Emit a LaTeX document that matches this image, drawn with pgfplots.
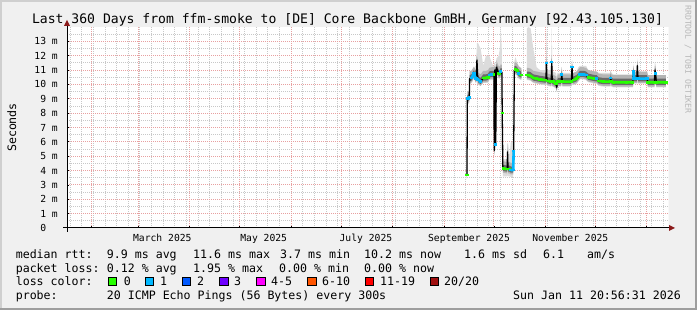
\documentclass[border=0pt]{standalone}
\usepackage{fontspec}
\setmainfont{DejaVu Sans Mono}
\usepackage{pgfplots}
\usepackage{pgfplotstable}
\usepgfplotslibrary{fillbetween}
\pgfplotsset{compat=1.18}
\definecolor{bgc}{HTML}{F0F0F0}
\definecolor{shadeA}{HTML}{CFCFCF}
\definecolor{shadeB}{HTML}{9E9E9E}
\definecolor{lgreen}{HTML}{26FF00}
\definecolor{lcyan}{HTML}{00B8FF}
\definecolor{lblue}{HTML}{0059FF}
\definecolor{lpurple}{HTML}{6E00FF}
\definecolor{lmag}{HTML}{FF00FF}
\definecolor{lorange}{HTML}{FF5500}
\definecolor{lred}{HTML}{FF0000}
\definecolor{ldred}{HTML}{A01010}
\definecolor{mgrid}{HTML}{E8A0A0}
\definecolor{ngrid}{HTML}{C8C8C8}
\definecolor{arrowred}{HTML}{8B1A1A}
\definecolor{smokeL}{HTML}{DCDCDC}
\definecolor{smokeM}{HTML}{B4B4B4}
\definecolor{smokeD}{HTML}{6A6A6A}
\definecolor{wmark}{HTML}{B8B8B8}

\pgfplotstableread{
d med lo hi g c
256.8 3.7 3.5 4.0 3.7 nan
257.0 9.0 8.6 9.3 nan nan
257.4 9.0 8.6 9.3 nan 9.0
258.2 9.1 8.7 9.4 nan 9.1
258.4 10.4 10.0 10.9 nan nan
259.6 10.45 10.1 11.0 nan 10.45
261.0 10.75 10.4 11.2 nan 10.75
262.2 10.4 10.1 11.0 nan 10.4
262.8 11.7 10.2 12.9 nan nan
263.3 10.35 10.0 12.9 nan 10.35
265.0 10.2 9.9 12.5 nan 10.2
266.6 10.45 10.1 11.3 10.45 nan
268.2 10.45 10.1 12.0 10.45 nan
269.5 10.5 10.1 12.0 10.5 nan
270.2 10.65 10.3 12.0 nan 10.65
271.7 10.7 10.3 11.5 nan 10.7
272.6 10.7 10.3 11.3 10.7 nan
273.0 10.7 10.3 11.3 nan nan
273.2 5.4 5.0 5.8 nan nan
273.5 11.0 10.6 11.5 nan nan
273.8 11.0 10.6 11.5 nan nan
274.1 5.8 5.4 6.2 nan 5.8
274.5 11.2 10.7 11.8 nan nan
275.9 10.75 10.4 12.0 10.75 nan
276.6 10.75 10.4 12.5 10.75 nan
277.1 10.9 10.5 14.0 nan 10.9
277.8 10.85 10.5 12.3 nan nan
278.0 8.0 7.7 8.3 8.0 nan
278.4 4.15 3.6 4.8 nan nan
278.6 4.15 3.6 4.8 4.15 nan
280.7 4.1 3.6 4.8 4.1 nan
281.0 4.1 3.6 5.9 nan nan
281.2 5.3 3.7 5.9 nan nan
281.5 4.1 3.6 5.9 4.1 nan
282.4 4.1 3.6 5.0 4.1 nan
283.2 4.03 3.55 6.0 nan 4.03
284.6 4.03 3.55 6.0 nan 4.03
284.9 5.37 5.0 5.9 nan 5.37
285.3 11.0 10.6 11.6 nan nan
286.0 11.05 10.7 11.9 11.05 nan
287.0 10.95 10.6 11.5 10.95 nan
287.9 10.75 10.4 11.3 nan 10.75
289.3 10.65 10.3 11.1 10.65 nan
289.6 10.65 10.3 11.1 10.65 nan
}\segA

\pgfplotstableread{
d med lo hi g c
292.9 10.65 10.3 13.9 10.65 nan
293.7 10.65 10.3 14.0 10.65 nan
295.1 10.6 10.25 13.9 10.6 nan
296.7 10.45 10.1 12.5 10.45 nan
298.7 10.4 10.05 11.2 10.4 nan
300.7 10.35 10.0 11.0 10.35 nan
303.7 10.3 9.95 11.0 10.3 nan
304.3 10.3 9.95 11.5 nan nan
304.6 11.5 10.0 13.9 nan 11.5
304.9 10.3 9.95 11.5 nan nan
305.3 10.25 9.9 11.0 10.25 nan
307.3 10.2 9.85 11.0 10.2 nan
307.5 10.2 9.85 11.5 nan nan
307.8 11.55 10.0 13.9 nan 11.55
308.1 10.2 9.85 11.5 nan nan
308.5 10.2 9.85 10.9 10.2 nan
310.4 10.05 9.7 10.8 10.05 nan
310.8 9.8 9.5 10.5 nan nan
311.2 10.1 9.8 10.8 nan nan
311.6 10.2 9.85 10.8 10.2 nan
313.4 10.2 9.85 10.8 10.2 nan
313.8 10.7 10.0 11.2 nan 10.7
314.2 10.2 9.85 10.8 10.2 nan
319.6 10.2 9.85 10.8 10.2 nan
320.0 11.2 10.0 11.6 nan 11.2
320.4 10.3 9.95 10.8 nan nan
320.8 10.3 9.95 10.8 10.3 nan
322.8 10.4 10.05 10.9 10.4 nan
323.8 10.55 10.2 11.2 10.55 nan
324.8 10.7 10.35 11.3 nan 10.7
326.8 10.7 10.35 11.3 nan 10.7
328.4 10.65 10.3 11.3 nan 10.65
329.8 10.5 10.15 11.0 10.5 nan
331.8 10.45 10.1 10.9 10.45 nan
333.8 10.4 10.05 10.9 10.4 nan
334.8 10.4 10.05 10.9 nan 10.4
336.0 10.25 9.9 10.8 10.25 nan
338.8 10.2 9.85 10.8 10.2 nan
343.0 10.2 9.85 10.8 10.2 nan
343.3 10.45 9.9 11.0 nan 10.45
343.7 10.2 9.85 10.8 10.2 nan
344.8 10.15 9.8 10.7 10.15 nan
352.9 10.15 9.8 10.7 10.15 nan
356.6 10.15 9.8 10.7 10.15 nan
356.9 10.9 9.9 11.2 nan 10.9
357.3 10.4 10.05 10.9 nan 10.4
359.0 10.4 10.05 10.9 nan 10.4
359.3 11.3 10.1 11.6 nan nan
359.7 10.4 10.05 10.9 nan 10.4
365.1 10.4 10.05 10.9 nan 10.4
365.7 10.15 9.8 10.6 10.15 nan
369.6 10.15 9.8 10.6 10.15 nan
369.9 11.0 9.9 11.3 nan nan
370.3 10.75 10.2 11.0 nan 10.75
370.7 10.15 9.8 10.6 10.15 nan
376.5 10.15 9.8 10.6 10.15 nan
}\segB

\begin{document}
\begin{tikzpicture}[x=1pt,y=1pt]
% grey canvas around the plot area (hole left for the layered axis content)
\fill[bgc, even odd rule] (0,0) rectangle (697,310) (67,82) rectangle (668.5,283);
\fill[shadeA] (0,308) rectangle (697,310);
\fill[shadeA] (0,0) rectangle (2,310);
\fill[shadeB] (0,0) rectangle (697,2);
\fill[shadeB] (695,0) rectangle (697,310);

\begin{axis}[
  at={(67pt,82pt)}, anchor=south west, scale only axis,
  width=601.5pt, height=201pt,
  xmin=16.14, xmax=378.05, ymin=0, ymax=14,
  axis background/.style={fill=white},
  axis line style={draw=none},
  xtick={31,59,90,120,151,181,212,243,273,304,334,365},
  xticklabels={},
  minor xtick={18,25,...,375},
  extra x ticks={73.5,134.5,196,258,319},
  extra x tick labels={March 2025,May 2025,July 2025,September 2025,November 2025},
  extra x tick style={grid=none, major tick length=0pt},
  ytick={0,1,...,13},
  yticklabels={0\hphantom{mm},1 m,2 m,3 m,4 m,5 m,6 m,7 m,8 m,9 m,10 m,11 m,12 m,13 m},
  minor ytick={0.5,1.5,...,13.5},
  grid=both,
  major grid style={mgrid, dash pattern=on 1pt off 1pt, line width=0.9pt},
  minor grid style={ngrid, dash pattern=on 1pt off 1pt, line width=0.9pt},
  tick align=center, major tick length=4pt, minor tick length=0pt,
  tick style={black, line width=0.8pt},
  tick pos=left,
  tick label style={font=\fontsize{9.7}{11}\selectfont, inner sep=0pt},
  xticklabel style={anchor=base, yshift=-13.7pt},
  yticklabel style={anchor=east, xshift=-7pt},
  /pgf/number format/assume math mode=true,
]
% light smoke (min to max)
\addplot[draw=none, name path=AH] table[x=d,y=hi]{\segA};
\addplot[draw=none, name path=AL] table[x=d,y=lo]{\segA};
\addplot[smokeL] fill between[of=AH and AL];
\addplot[draw=none, name path=BH] table[x=d,y=hi]{\segB};
\addplot[draw=none, name path=BL] table[x=d,y=lo]{\segB};
\addplot[smokeL] fill between[of=BH and BL];
% medium smoke
\addplot[draw=none, name path=AMH] table[x=d,y expr=\thisrow{med}+0.5]{\segA};
\addplot[draw=none, name path=AML] table[x=d,y expr=\thisrow{med}-0.3]{\segA};
\addplot[smokeM] fill between[of=AMH and AML];
\addplot[draw=none, name path=BMH] table[x=d,y expr=\thisrow{med}+0.5]{\segB};
\addplot[draw=none, name path=BML] table[x=d,y expr=\thisrow{med}-0.3]{\segB};
\addplot[smokeM] fill between[of=BMH and BML];
% dark smoke near the median
\addplot[draw=none, name path=ADH] table[x=d,y expr=\thisrow{med}+0.25]{\segA};
\addplot[draw=none, name path=ADL] table[x=d,y expr=\thisrow{med}-0.18]{\segA};
\addplot[smokeD] fill between[of=ADH and ADL];
\addplot[draw=none, name path=BDH] table[x=d,y expr=\thisrow{med}+0.25]{\segB};
\addplot[draw=none, name path=BDL] table[x=d,y expr=\thisrow{med}-0.18]{\segB};
\addplot[smokeD] fill between[of=BDH and BDL];

\addplot[black, line width=1.3pt, line join=round, mark=none] table[x=d,y=med]{\segA};
\addplot[black, line width=1.3pt, line join=round, mark=none] table[x=d,y=med]{\segB};

\addplot[lgreen, line width=2.6pt, line join=round, mark=-, mark size=1.6pt, mark options={solid}, unbounded coords=jump] table[x=d,y=g]{\segA};
\addplot[lgreen, line width=2.6pt, line join=round, mark=-, mark size=1.6pt, mark options={solid}, unbounded coords=jump] table[x=d,y=g]{\segB};
\addplot[lcyan, line width=2.6pt, line join=round, mark=-, mark size=1.6pt, mark options={solid}, unbounded coords=jump] table[x=d,y=c]{\segA};
\addplot[lcyan, line width=2.6pt, line join=round, mark=-, mark size=1.6pt, mark options={solid}, unbounded coords=jump] table[x=d,y=c]{\segB};
\end{axis}

% axis lines with arrows
\draw[black, line width=1pt] (63,82) -- (670,82);
\fill[arrowred] (669,79) -- (675,82) -- (669,85) -- cycle;
\draw[black, line width=1pt] (67,78) -- (67,285);
\fill[arrowred] (64,284) -- (67,290) -- (70,284) -- cycle;

% title
\node[anchor=base, inner sep=0pt, font=\fontsize{13.1}{15}\selectfont] at (347.5,286) {Last 360 Days from ffm-smoke to [DE] Core Backbone GmBH, Germany [92.43.105.130]};
% y label
\node[rotate=90, inner sep=0pt, font=\fontsize{11.6}{13}\selectfont] at (11.7,182.5) {Seconds};
% watermark
\node[rotate=-90, anchor=west, inner sep=0pt, text=wmark, font=\fontsize{8.2}{9}\selectfont] at (688,305) {RRDTOOL / TOBI OETIKER};

% legend
\begin{scope}[every node/.style={anchor=base west, inner sep=0pt, font=\fontsize{11.6}{13}\selectfont}]
\node at (15.6,51.2) {median rtt:};
\node at (106.7,51.2) {9.9 ms avg};
\node at (193,51.2) {11.6 ms max};
\node at (280,51.2) {3.7 ms min};
\node at (364,51.2) {10.2 ms now};
\node at (464,51.2) {1.6 ms sd};
\node at (543,51.2) {6.1};
\node at (587,51.2) {am/s};
\node at (15.6,37.7) {packet loss:};
\node at (106.7,37.7) {0.12 \% avg};
\node at (193,37.7) {1.95 \% max};
\node at (279,37.7) {0.00 \% min};
\node at (364,37.7) {0.00 \% now};
\node at (15.6,24) {loss color:};
\node at (123.6,24) {0};
\node at (160,24) {1};
\node at (197,24) {2};
\node at (234,24) {3};
\node at (271,24) {4-5};
\node at (322,24) {6-10};
\node at (380,24) {11-19};
\node at (444,24) {20/20};
\node at (15.6,10.5) {probe:};
\node at (106.7,10.5) {20 ICMP Echo Pings (56 Bytes) every 300s};
\node at (513,10.5) {Sun Jan 11 20:56:31 2026};
\end{scope}
\foreach \xx/\cc in {108/lgreen,145/lcyan,182/lblue,219.6/lpurple,256.4/lmag,307.6/lorange,365.3/lred,430/ldred}{
  \filldraw[fill=\cc, draw=black, line width=0.8pt] (\xx,24.5) rectangle ++(8.5,8.5);
}
\end{tikzpicture}
\end{document}
